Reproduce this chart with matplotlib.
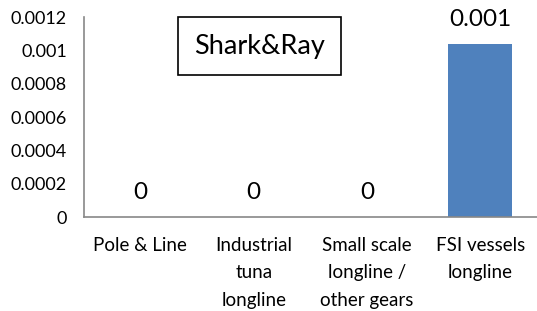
import matplotlib.pyplot as plt

categories = ['Pole & Line', 'Industrial\ntuna\nlongline', 'Small scale\nlongline /\nother gears', 'FSI vessels\nlongline']
values = [0, 0, 0, 0.00104]
value_labels = ['0', '0', '0', '0.001']
yticks = [0, 0.0002, 0.0004, 0.0006, 0.0008, 0.001, 0.0012]
ytick_labels = ['0', '0.0002', '0.0004', '0.0006', '0.0008', '0.001', '0.0012']

plt.rcParams['font.family'] = ['Lato', 'DejaVu Sans']

fig = plt.figure(figsize=(5.37, 3.11), dpi=100)
ax = fig.add_axes([0.156, 0.302, 0.844, 0.643])

x = range(len(categories))
ax.bar(x, values, width=0.565, color='#4f81bd')
for i in x:
    ax.annotate(value_labels[i], (i, values[i]), xytext=(0, 10), textcoords='offset points',
                ha='center', va='bottom', fontsize=17.5)

ax.set_xlim(-0.5, 3.5)
ax.set_ylim(0, 0.0012)
ax.set_yticks(yticks)
ax.set_yticklabels(ytick_labels, fontsize=13)
ax.set_xticks(list(x))
ax.set_xticklabels(categories, fontsize=13.5, linespacing=1.75, va='top')
ax.tick_params(length=0, pad=14)
ax.tick_params(axis='y', pad=12)

for s in ['top', 'right']:
    ax.spines[s].set_visible(False)
for s in ['left', 'bottom']:
    ax.spines[s].set_color('#888888')
    ax.spines[s].set_linewidth(1.2)

fig.text(0.483, 0.852, 'Shark&Ray', ha='center', va='center', fontsize=19.5,
         bbox=dict(boxstyle='square,pad=0.6', facecolor='white', edgecolor='black', linewidth=1.2))

plt.savefig('out.png', dpi=100)
